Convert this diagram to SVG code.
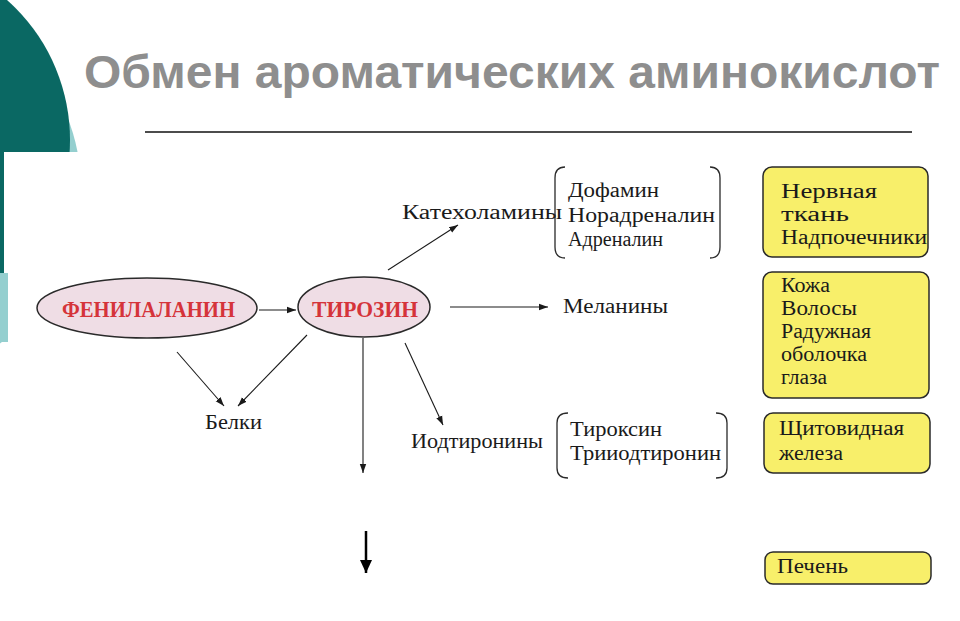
<svg xmlns="http://www.w3.org/2000/svg" width="960" height="621" viewBox="0 0 960 621">
<defs>
<marker id="ah" markerUnits="userSpaceOnUse" markerWidth="10" markerHeight="8" refX="9" refY="4" orient="auto"><path d="M0,0.8 L9,4 L0,7.2 Z" fill="#1a1a1a"/></marker>
<marker id="ahb" markerUnits="userSpaceOnUse" markerWidth="14" markerHeight="12" refX="13" refY="6" orient="auto"><path d="M0,0 L13,6 L0,12 Z" fill="#000"/></marker>
<style>
.t{font-family:"Liberation Serif","Times New Roman",serif;font-size:20px;fill:#1a1a1a}
.r{font-family:"Liberation Serif","Times New Roman",serif;font-size:23px;font-weight:bold;fill:#d5343a}
.ell{fill:#efdde5;stroke:#2a2a2a;stroke-width:1.5}
.box{fill:#f8ef6a;stroke:#2a2a2a;stroke-width:1.5}
.br{fill:none;stroke:#2a2a2a;stroke-width:1.3}
.c{stroke:#1a1a1a;stroke-width:1.1;fill:none;marker-end:url(#ah)}
</style>
</defs>
<rect width="960" height="621" fill="#fff"/>
<g id="decor">
<circle cx="-109" cy="188" r="190" fill="#94cfcf"/>
<circle cx="-117" cy="140" r="187" fill="#0a6863"/>
<rect x="4" y="152" width="956" height="469" fill="#fff"/>
<rect x="0" y="152" width="4" height="121" fill="#0a6863"/>
<rect x="0" y="273" width="8" height="69" fill="#94cfcf"/>
</g>
<g id="title">
<text x="84" y="88" font-family="Liberation Sans, Arial, sans-serif" font-weight="bold" font-size="46" fill="#8e8e8e" textLength="856" lengthAdjust="spacingAndGlyphs">Обмен ароматических аминокислот</text>
<line x1="145" y1="132" x2="912" y2="132" stroke="#111" stroke-width="1.5"/>
</g>
<g id="connectors">
<path class="c" d="M259,310 L296,310"/>
<path class="c" d="M388,270 L458,225"/>
<path class="c" d="M450,307 L548,307"/>
<path class="c" d="M307,335 L238,406"/>
<path class="c" d="M177,352 L224,406"/>
<path class="c" d="M363,338 L363,473"/>
<path class="c" d="M405,343 L443,425"/>
<path d="M366,531 L366,573" stroke="#000" stroke-width="2.5" fill="none" marker-end="url(#ahb)"/>
</g>
<g id="phenylalanine">
<ellipse class="ell" cx="147" cy="308" rx="110" ry="30"/>
<text class="r" x="62" y="317" textLength="173" lengthAdjust="spacingAndGlyphs">ФЕНИЛАЛАНИН</text>
</g>
<g id="tyrosine">
<ellipse class="ell" cx="364" cy="307" rx="66" ry="30"/>
<text class="r" x="312" y="317" textLength="106" lengthAdjust="spacingAndGlyphs">ТИРОЗИН</text>
</g>
<g id="catecholamines">
<text class="t" x="402" y="219" textLength="160" lengthAdjust="spacingAndGlyphs">Катехоламины</text>
<path class="br" d="M565,167 Q555,167 555,178 L555,247 Q555,258 565,258"/>
<path class="br" d="M710,167 Q720,167 720,178 L720,247 Q720,258 710,258"/>
<text class="t" x="568" y="197" textLength="91" lengthAdjust="spacingAndGlyphs">Дофамин</text>
<text class="t" x="568" y="222" textLength="147" lengthAdjust="spacingAndGlyphs">Норадреналин</text>
<text class="t" x="568" y="246" textLength="95" lengthAdjust="spacingAndGlyphs">Адреналин</text>
</g>
<g id="melanins">
<text class="t" x="563" y="313" textLength="105" lengthAdjust="spacingAndGlyphs">Меланины</text>
</g>
<g id="proteins">
<text class="t" x="205" y="429" textLength="57" lengthAdjust="spacingAndGlyphs">Белки</text>
</g>
<g id="iodothyronines">
<text class="t" x="411" y="448" textLength="132" lengthAdjust="spacingAndGlyphs">Иодтиронины</text>
<path class="br" d="M568,413 Q557,413 557,423 L557,468 Q557,478 568,478"/>
<path class="br" d="M716,413 Q727,413 727,423 L727,468 Q727,478 716,478"/>
<text class="t" x="570" y="436" textLength="92" lengthAdjust="spacingAndGlyphs">Тироксин</text>
<text class="t" x="570" y="460" textLength="151" lengthAdjust="spacingAndGlyphs">Трииодтиронин</text>
</g>
<g id="box-nervous">
<rect class="box" x="763" y="167" width="165" height="90" rx="9"/>
<text class="t" x="781" y="198" textLength="96" lengthAdjust="spacingAndGlyphs">Нервная</text>
<text class="t" x="781" y="221" textLength="68" lengthAdjust="spacingAndGlyphs">ткань</text>
<text class="t" x="781" y="244" textLength="146" lengthAdjust="spacingAndGlyphs">Надпочечники</text>
</g>
<g id="box-skin">
<rect class="box" x="763" y="272" width="166" height="126" rx="9"/>
<text class="t" x="781" y="292" textLength="49" lengthAdjust="spacingAndGlyphs">Кожа</text>
<text class="t" x="781" y="315" textLength="76" lengthAdjust="spacingAndGlyphs">Волосы</text>
<text class="t" x="781" y="338" textLength="90" lengthAdjust="spacingAndGlyphs">Радужная</text>
<text class="t" x="781" y="361" textLength="86" lengthAdjust="spacingAndGlyphs">оболочка</text>
<text class="t" x="781" y="384" textLength="46" lengthAdjust="spacingAndGlyphs">глаза</text>
</g>
<g id="box-thyroid">
<rect class="box" x="764" y="413" width="166" height="60" rx="9"/>
<text class="t" x="779" y="435" textLength="125" lengthAdjust="spacingAndGlyphs">Щитовидная</text>
<text class="t" x="779" y="460" textLength="64" lengthAdjust="spacingAndGlyphs">железа</text>
</g>
<g id="box-liver">
<rect class="box" x="765" y="552" width="166" height="32" rx="8"/>
<text class="t" x="777" y="573" textLength="71" lengthAdjust="spacingAndGlyphs">Печень</text>
</g>
</svg>
